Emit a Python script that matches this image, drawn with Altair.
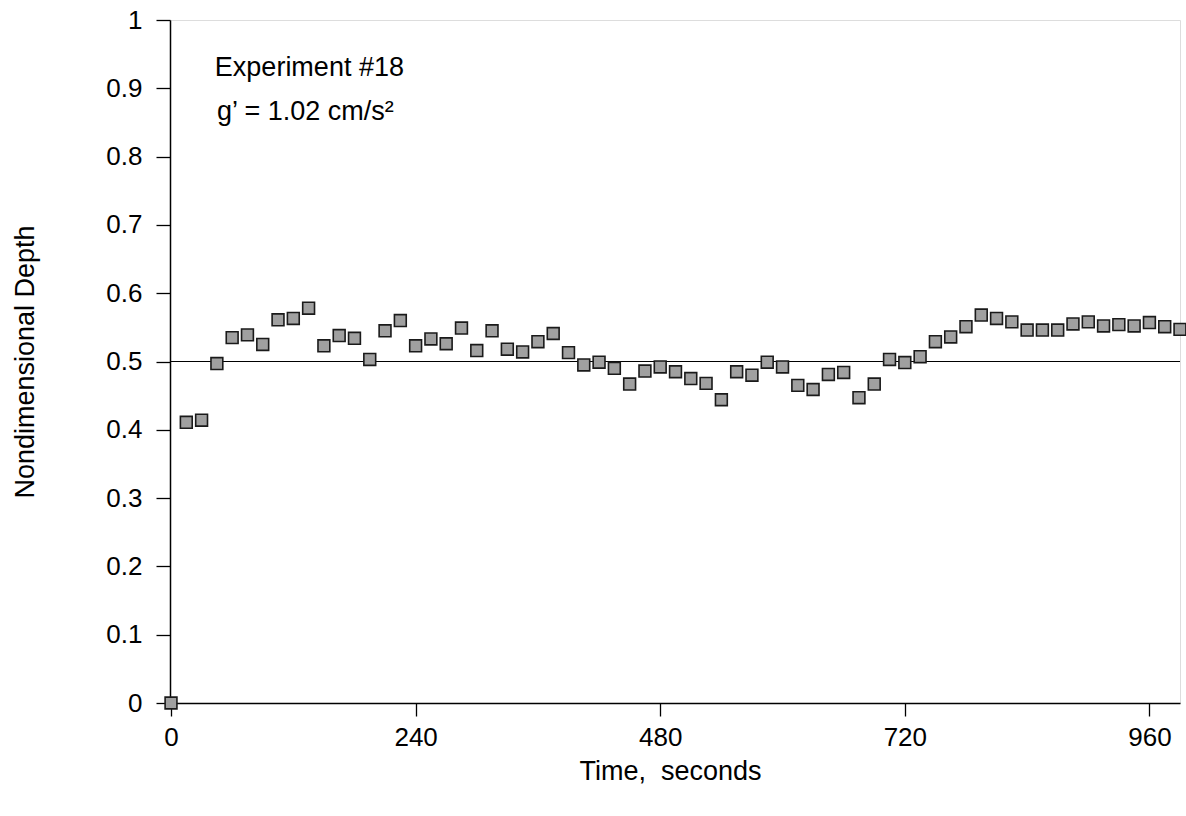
import altair as alt
import pandas as pd

# Data (one reading every 15 s)
time_s = [15 * i for i in range(67)]
depth = [
    0.000, 0.411, 0.414, 0.497, 0.535, 0.539, 0.525, 0.561, 0.563, 0.578,
    0.523, 0.538, 0.534, 0.503, 0.545, 0.560, 0.523, 0.533, 0.526, 0.549,
    0.516, 0.545, 0.518, 0.514, 0.529, 0.541, 0.513, 0.495, 0.499, 0.490,
    0.467, 0.486, 0.492, 0.485, 0.475, 0.468, 0.444, 0.485, 0.480, 0.499,
    0.492, 0.465, 0.459, 0.481, 0.484, 0.447, 0.467, 0.503, 0.4985, 0.507,
    0.529, 0.536, 0.551, 0.568, 0.563, 0.558, 0.546, 0.546, 0.546, 0.555,
    0.558, 0.552, 0.554, 0.552, 0.557, 0.551, 0.547,
]
x_ticks = [0, 240, 480, 720, 960]
y_ticks = [0, 0.1, 0.2, 0.3, 0.4, 0.5, 0.6, 0.7, 0.8, 0.9, 1]
ref_level = [0.5]
notes = ["Experiment #18", "g\u2019 = 1.02 cm/s\u00b2"]
note_x = [43, 45]
note_y = [0.918, 0.853]

FONT = "Liberation Sans"
FS = 26
FS_TITLE = 27
FS_NOTE = 27

df = pd.DataFrame({"t": time_s, "d": depth})
ref_df = pd.DataFrame({"y": ref_level})
note_df = pd.DataFrame({"label": notes, "x": note_x, "y": note_y})

xscale = alt.Scale(domain=[-1, 990], nice=False, zero=False)
yscale = alt.Scale(domain=[0, 1], nice=False)

xaxis = alt.Axis(
    values=x_ticks, title="Time,\u00a0 seconds", grid=False,
    labelFont=FONT, labelFontSize=FS, labelColor="black", labelPadding=8,
    tickSize=13, tickColor="black", tickWidth=1.3,
    domainColor="black", domainWidth=1.5,
    titleFont=FONT, titleFontSize=FS_TITLE, titleFontWeight="normal", titleColor="black",
    titleX=500, titleY=68, titleBaseline="middle", titleAlign="center",
)
yaxis = alt.Axis(
    values=y_ticks, title="Nondimensional Depth", grid=False,
    labelFont=FONT, labelFontSize=FS, labelColor="black", labelPadding=14,
    labelExpr="datum.value == 0 ? '0' : datum.value == 1 ? '1' : format(datum.value, '.1f')",
    tickSize=14, tickColor="black", tickWidth=1.3,
    domainColor="black", domainWidth=1.5,
    titleFont=FONT, titleFontSize=FS_TITLE, titleFontWeight="normal", titleColor="black",
    titleX=-145, titleY=341.5, titleAngle=270, titleBaseline="middle", titleAlign="center",
)

points = alt.Chart(df).mark_point(
    shape="square", size=140, filled=True, fill="#a0a0a0", stroke="#1a1a1a",
    strokeWidth=1.6, opacity=1,
).encode(
    x=alt.X("t:Q", scale=xscale, axis=xaxis),
    y=alt.Y("d:Q", scale=yscale, axis=yaxis),
)

rule = alt.Chart(ref_df).mark_rule(color="black", strokeWidth=1.2).encode(
    y=alt.Y("y:Q", scale=yscale),
)

text = alt.Chart(note_df).mark_text(
    font=FONT, fontSize=FS_NOTE, align="left", baseline="alphabetic", color="black",
).encode(
    x=alt.X("x:Q", scale=xscale),
    y=alt.Y("y:Q", scale=yscale),
    text="label:N",
)

chart = alt.layer(rule, points, text).properties(
    width=1010, height=683,
    autosize=alt.AutoSizeParams(type="none"),
    padding={"left": 170, "top": 20, "right": 6, "bottom": 113},
).configure_view(stroke="black", strokeWidth=1.5).configure(background="white")

chart.save("out.html", embed_options={"renderer": "svg", "actions": False})
